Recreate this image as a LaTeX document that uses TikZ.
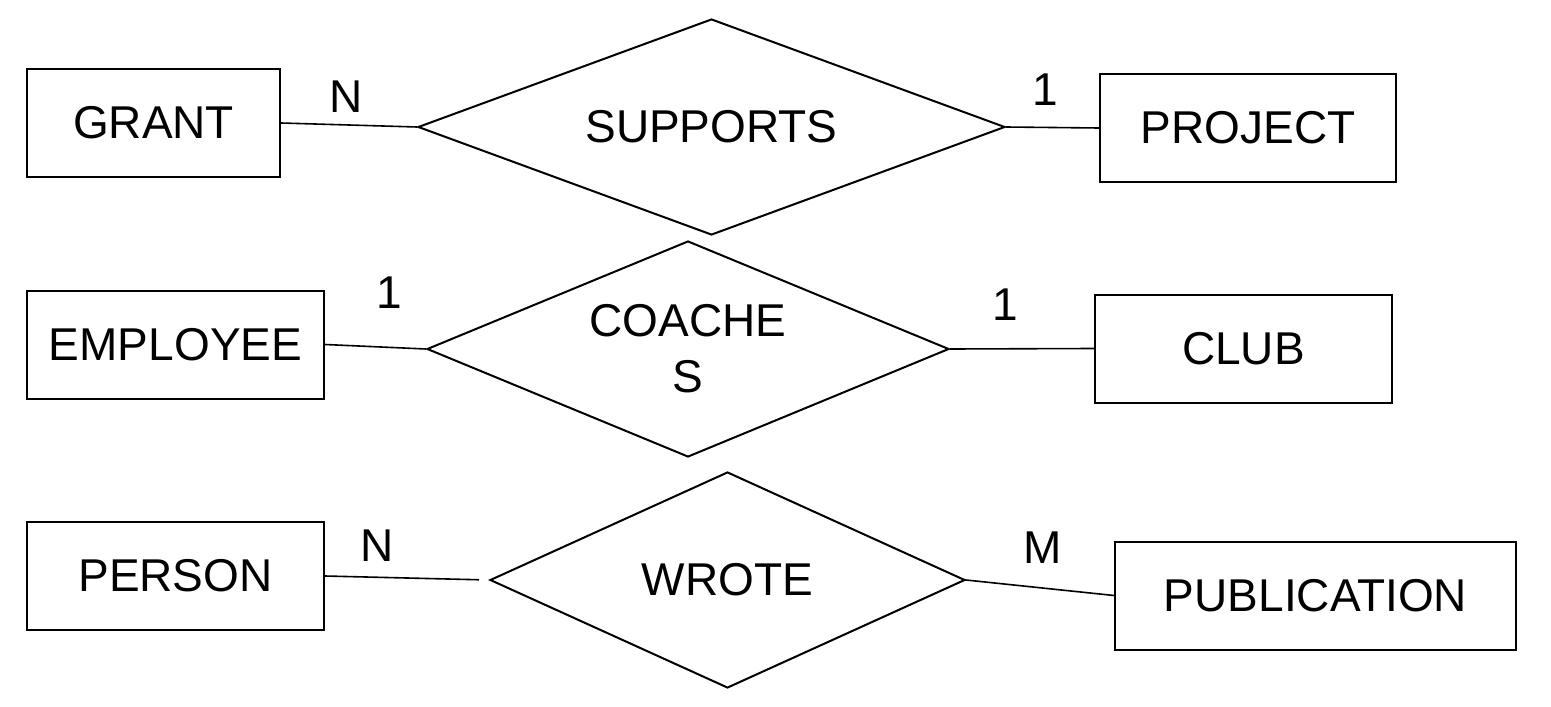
\documentclass[tikz,border=0pt]{standalone}
\usepackage{fontspec}
\setmainfont{Liberation Sans}
\usetikzlibrary{shapes.geometric}

\tikzstyle{entite}=[draw, rectangle, line width = 1pt, minimum height = 54pt, inner sep = 0pt]
\tikzstyle{relation}=[draw, diamond, line width = 1pt, minimum height = 108pt, inner sep = 0pt, align = center]
\tikzstyle{lien}=[line width = 0.8pt]

\begin{document}
\begin{tikzpicture}[
        x=0.5pt, y=-0.5pt,
        every node/.style={font=\fontsize{23}{28}\selectfont}
    ]
    \useasboundingbox (0,0) rectangle (1551,706);

    % ligne 1
    \node[entite, minimum width=126.5pt] (grant) at (153.5,123) {GRANT};
    \node[relation, minimum width=293.5pt, aspect=2.72] (supports) at (711.5,127) {SUPPORTS};
    \node[entite, minimum width=148pt] (project) at (1248,128) {PROJECT};
    \draw[lien] (grant.east) -- (supports.west);
    \draw[lien] (supports.east) -- (project.west);
    \node (cardgrant) at (346,97) {N};
    \node (cardproject) at (1045,90) {1};

    % ligne 2
    \node[entite, minimum width=148.5pt] (employee) at (175.5,344.5) {EMPLOYEE};
    \node[relation, minimum width=261pt, aspect=2.42] (coaches) at (688,349) {COACHE\\S};
    \node[entite, minimum width=148.5pt] (club) at (1243.5,348.5) {CLUB};
    \draw[lien] (employee.east) -- (coaches.west);
    \draw[lien] (coaches.east) -- (club.west);
    \node (cardemployee) at (389,293) {1};
    \node (cardclub) at (1005,305) {1};

    % ligne 3
    \node[entite, minimum width=148.5pt] (person) at (175.5,576) {PERSON};
    \node[relation, minimum width=237.5pt, aspect=2.2] (wrote) at (727.5,580) {WROTE};
    \node[entite, minimum width=200.5pt] (publication) at (1315.5,595.5) {PUBLICATION};
    \draw[lien, shorten >=5pt] (person.east) -- (wrote.west);
    \draw[lien, shorten <=-2pt] (wrote.east) -- (publication.west);
    \node (cardperson) at (377,546) {N};
    \node (cardpublication) at (1043,548) {M};

\end{tikzpicture}
\end{document}
